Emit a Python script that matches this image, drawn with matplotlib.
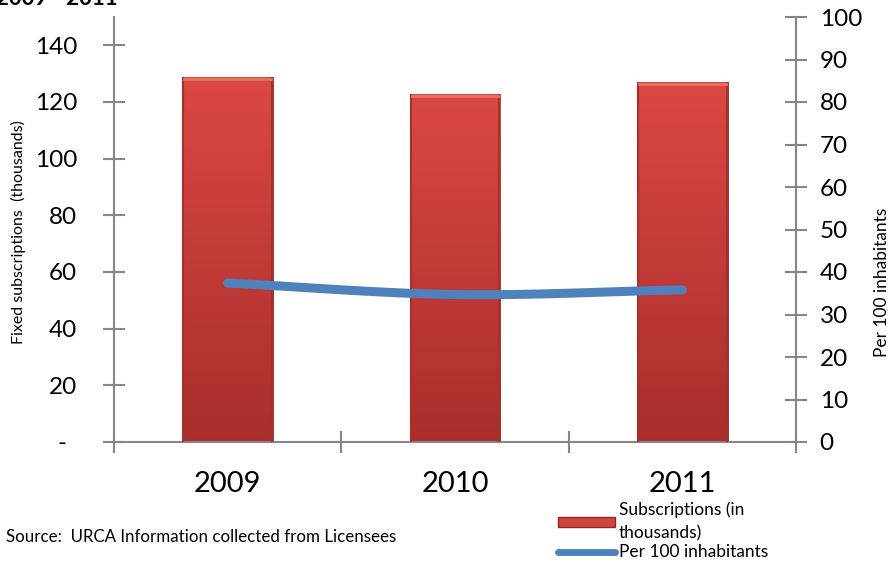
import matplotlib
matplotlib.use('Agg')
import matplotlib.pyplot as plt
import numpy as np
from matplotlib.lines import Line2D
from matplotlib.patches import Patch

### Data ####################################################
years = ['2009', '2010', '2011']
subscriptions = [128.7, 122.8, 127.0]      # thousands
per_100 = [37.4, 34.7, 35.8]               # per 100 inhabitants
left_ticks = [0, 20, 40, 60, 80, 100, 120, 140]
left_ticklabels = ['', '20', '40', '60', '80', '100', '120', '140']
right_ticks = [0, 10, 20, 30, 40, 50, 60, 70, 80, 90, 100]
#############################################################

plt.rcParams['font.family'] = ['Lato', 'DejaVu Sans']
axis_grey = '#868686'
bar_top = np.array([0xDB, 0x48, 0x42]) / 255.
bar_bot = np.array([0xA8, 0x2E, 0x2C]) / 255.
line_blue = '#4F81BD'

fig = plt.figure(figsize=(8.93, 5.64), dpi=100)
ax = fig.add_axes([114/893, 122/564, (796-114)/893, (442-17)/564])
ax2 = ax.twinx()

x = np.arange(len(years))
bar_w = 0.40
bars = ax.bar(x, subscriptions, width=bar_w, color=bar_top,
              edgecolor='#8E2623', linewidth=0.6, zorder=2)

# vertical gradient inside each bar
grad = np.linspace(0, 1, 256)[:, None]
cols = bar_bot[None, None, :] * grad[..., None] + bar_top[None, None, :] * (1 - grad[..., None])
cols = cols[::-1]
for b in bars:
    x0, y0 = b.get_x(), b.get_y()
    im = ax.imshow(cols, extent=[x0, x0 + b.get_width(), y0, y0 + b.get_height()],
                   aspect='auto', origin='lower', zorder=2.5)
    im.set_clip_path(b)
    # darker side edges and light top bevel
    ax.plot([x0 + 0.005, x0 + 0.005], [0, b.get_height()], color='#A5302C', lw=1.5, zorder=3,
            solid_capstyle='butt')
    ax.plot([x0 + b.get_width() - 0.005] * 2, [0, b.get_height()], color='#A5302C', lw=1.5,
            zorder=3, solid_capstyle='butt')
    ax.plot([x0 + 0.01, x0 + b.get_width() - 0.01], [b.get_height() - 0.6] * 2,
            color='#E8706A', lw=2, zorder=3)

ax.set_xlim(-0.5, 2.5)
ax.set_ylim(0, 150)
ax2.set_ylim(0, 100)

# smooth line through the yearly values (Catmull-Rom style curve)
pts = np.column_stack([x, per_100]).astype(float)
ext = np.vstack([2 * pts[0] - pts[1], pts, 2 * pts[-1] - pts[-2]])
curve = []
t = np.linspace(0, 1, 40)[:, None]
for i in range(1, len(ext) - 2):
    p0, p1, p2, p3 = ext[i - 1], ext[i], ext[i + 1], ext[i + 2]
    seg = 0.5 * ((2 * p1) + (-p0 + p2) * t + (2 * p0 - 5 * p1 + 4 * p2 - p3) * t ** 2
                 + (-p0 + 3 * p1 - 3 * p2 + p3) * t ** 3)
    curve.append(seg)
curve = np.vstack(curve)
ax2.plot(curve[:, 0], curve[:, 1], color=line_blue, lw=6.5, solid_capstyle='round', zorder=4)
ax2.set_zorder(ax.get_zorder() + 1)
ax2.patch.set_visible(False)

# spines
for a in (ax, ax2):
    a.spines['top'].set_visible(False)
    for s in ('left', 'right', 'bottom'):
        a.spines[s].set_color(axis_grey)
        a.spines[s].set_linewidth(1.5)
ax.spines['right'].set_visible(False)
ax2.spines['left'].set_visible(False)
ax2.spines['bottom'].set_visible(False)

ax.set_yticks(left_ticks)
ax.set_yticklabels(left_ticklabels)
ax.tick_params(axis='y', direction='inout', length=16, width=1.5, color=axis_grey,
               labelsize=17.5, pad=18.5)
# accounting-style dash for zero, set in from the other labels
ax.annotate('-', xy=(0, 0), xycoords=('axes fraction', 'data'), xytext=(-52, -2),
            textcoords='offset pixels', ha='center', va='center', fontsize=17.5)
ax2.set_yticks(right_ticks)
ax2.tick_params(axis='y', direction='inout', length=16, width=1.5, color=axis_grey,
                labelsize=17.5, pad=9)

ax.set_xticks([-0.5, 0.5, 1.5, 2.5])
ax.set_xticklabels([])
ax.tick_params(axis='x', direction='inout', length=16, width=1.5, color=axis_grey)
ax.set_xticks(x, minor=True)
ax.set_xticklabels(years, minor=True, fontsize=21)
ax.tick_params(axis='x', which='minor', length=0, pad=21)

fig.text(18/893, 1 - 232/564, 'Fixed subscriptions  (thousands)', rotation=90,
         ha='center', va='center', fontsize=11.5)
fig.text(882/893, 1 - 282/564, 'Per 100 inhabitants', rotation=90,
         ha='center', va='center', fontsize=12.5)

# title running off the top edge
fig.text(-0.004, 1 - 5/564, '2009 - 2011', fontsize=16, fontweight='bold',
         ha='left', va='baseline')

fig.text(6/893, 1 - 537/564, 'Source:  URCA Information collected from Licensees',
         fontsize=12.2, ha='left', va='center')

handles = [Patch(facecolor='#D2433D', edgecolor='#8E2623'),
           Line2D([0], [0], color=line_blue, lw=5, solid_capstyle='round')]
leg = fig.legend(handles, ['Subscriptions (in\nthousands)', 'Per 100 inhabitants'],
                 loc='upper left', bbox_to_anchor=(558/893, 1 - 501/564), frameon=False,
                 fontsize=12.5, handlelength=3.3, handleheight=0.5, handletextpad=0.2,
                 labelspacing=0.15, borderpad=0, borderaxespad=0)
for txt in leg.get_texts():
    txt.set_linespacing(1.6)

plt.savefig('out.png', dpi=100)
plt.close()
